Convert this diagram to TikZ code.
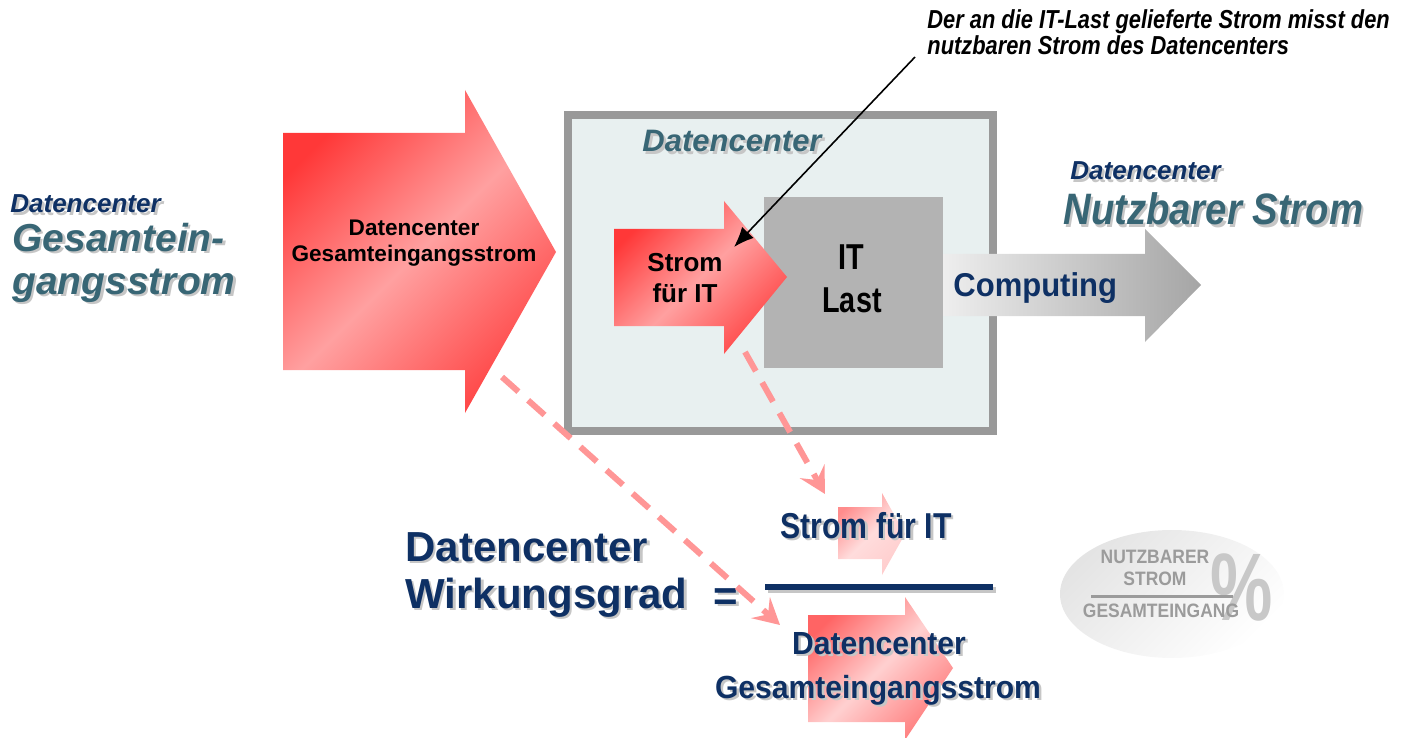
\documentclass[tikz,border=0pt]{standalone}
\usepackage{fontspec}
\setmainfont{Liberation Sans}
\usepackage{graphicx}
\usetikzlibrary{calc,arrows.meta}
\definecolor{navy}{RGB}{14,48,100}
\definecolor{dcteal}{RGB}{56,102,117}
\definecolor{shad}{RGB}{198,198,198}
\definecolor{boxline}{RGB}{153,153,153}
\definecolor{boxfill}{RGB}{232,240,240}
\definecolor{itgray}{RGB}{179,179,179}
\definecolor{dashpink}{RGB}{255,150,150}
\definecolor{elltext}{RGB}{155,155,155}
\definecolor{pctgray}{RGB}{200,200,200}
\newcommand\fs[1]{\fontsize{#1}{#1}\selectfont}
\newcommand\sx[2]{\scalebox{#1}[1]{#2}}
\newcommand\shnode[4]{%
  \node[#3,text=shad] (#1s) at ($(#2)+(2.5,2.5)$) {#4};
  \node[#3] (#1) at (#2) {#4};}
\tikzset{
  txtw/.style={inner sep=0pt, anchor=base west},
  txtc/.style={inner sep=0pt, anchor=base},
  bi/.style={font=\bfseries\itshape\fs{#1}},
  bo/.style={font=\bfseries\fs{#1}},
  redarrow/.style={top color={rgb,255:red,255;green,56;blue,56}, bottom color={rgb,255:red,255;green,70;blue,70}, middle color={rgb,255:red,255;green,160;blue,160}, shading angle=45},
  lightarrow/.style={top color={rgb,255:red,255;green,100;blue,100}, bottom color={rgb,255:red,255;green,125;blue,125}, middle color={rgb,255:red,255;green,208;blue,208}, shading angle=45},
  palearrow/.style={top color={rgb,255:red,255;green,140;blue,140}, bottom color={rgb,255:red,255;green,205;blue,205}, middle color={rgb,255:red,255;green,220;blue,220}, shading angle=45},
  grayarrow/.style={left color={rgb,255:red,238;green,238;blue,238}, right color={rgb,255:red,165;green,165;blue,165}},
  dasharrow/.style={draw=dashpink, line width=3pt, dash pattern=on 11pt off 6.5pt, -{Stealth[length=13pt,width=14pt,inset=5pt]}},
}
\begin{document}
\begin{tikzpicture}[x=0.5pt,y=-0.5pt]
\useasboundingbox (0,0) rectangle (1405,738);

% left title
\shnode{lt1}{10,213}{txtw,bi=13,text=navy}{Datencenter}
\shnode{lt2}{12,251}{txtw,bi=19.5,text=dcteal}{Gesamtein-}
\shnode{lt3}{12,294}{txtw,bi=19.5,text=dcteal}{gangsstrom}

% big input arrow
\shade[redarrow] (283,133) -- (465,133) -- (465,90) -- (556,252) -- (465,413) -- (465,370) -- (283,370) -- cycle;
\node[txtc,bo=11.3] (bigt1) at (414,235) {Datencenter};
\node[txtc,bo=11.3] (bigt2) at (414,262) {Gesamteingangsstrom};

% data center box
\draw[line width=4pt, draw=boxline, fill=boxfill] (568,115) rectangle (993,431);
\shnode{boxt}{642,152}{txtw,bi=15.5,text=dcteal}{Datencenter}
\fill[itgray] (764,197) rectangle (943,368);
\node[txtc,bo=18] (it1) at (851,270) {\sx{0.8}{IT}};
\node[txtc,bo=18] (it2) at (852,313) {\sx{0.8}{Last}};

% Strom fuer IT arrow
\shade[redarrow] (614,229) -- (724,229) -- (724,201) -- (787,277) -- (724,354) -- (724,326) -- (614,326) -- cycle;
\node[txtc,bo=13] (sit1) at (685,271) {Strom};
\node[txtc,bo=13] (sit2) at (685,302) {für IT};

% computing arrow
\shade[grayarrow] (943,254) -- (1145,254) -- (1145,229) -- (1201,285) -- (1145,342) -- (1145,316) -- (943,316) -- cycle;
\node[txtw,bo=16.5,text=navy] (comp) at (953,297) {\sx{0.94}{Computing}};

% right title
\shnode{rt1}{1070,180}{txtw,bi=13,text=navy}{Datencenter}
\shnode{rt2}{1063,225}{txtw,bi=22,text=dcteal}{\sx{0.87}{Nutzbarer Strom}}

% annotation
\node[txtw,bi=13] (ann1) at (927,29) {\sx{0.84}{Der an die IT-Last gelieferte Strom misst den}};
\node[txtw,bi=13] (ann2) at (927,55) {\sx{0.84}{nutzbaren Strom des Datencenters}};
\coordinate (annS) at (915,57);
\coordinate (annE) at (734,247);
\draw[line width=0.8pt, -{Latex[length=10pt,width=8pt]}] (annS) -- (annE);

% formula
\shade[palearrow] (838,507) -- (882,507) -- (882,493) -- (905,534) -- (882,575) -- (882,559) -- (838,559) -- cycle;
\shade[lightarrow] (808,615) -- (905,615) -- (905,597) -- (953,668) -- (905,740) -- (905,722) -- (808,722) -- cycle;
\shnode{wg1}{405,561}{txtw,bo=21,text=navy}{Datencenter}
\shnode{wg2}{405,608}{txtw,bo=21,text=navy}{Wirkungsgrad}
\shnode{eq}{726,610}{txtc,bo=21,text=navy}{=}
\coordinate (barL) at (765,587);
\coordinate (barR) at (993,587);
\draw[line width=3pt, shad] ($(barL)+(2.5,2.5)$) -- ($(barR)+(2.5,2.5)$);
\draw[line width=3pt, navy] (barL) -- (barR);
\shnode{num}{866,538}{txtc,bo=18,text=navy}{\sx{0.84}{Strom für IT}}
\shnode{den1}{879,654}{txtc,bo=16,text=navy}{\sx{0.94}{Datencenter}}
\shnode{den2}{878,698}{txtc,bo=16,text=navy}{\sx{0.94}{Gesamteingangsstrom}}

% dashed connectors
\coordinate (d1s) at (745,352);
\coordinate (d1e) at (825,494);
\coordinate (d2s) at (502,377);
\coordinate (d2e) at (780,625);
\draw[dasharrow] (d1s) -- (d1e);
\draw[dasharrow] (d2s) -- (d2e);

% ellipse
\shade[top color={rgb,255:red,228;green,228;blue,228}, bottom color=white, shading angle=45] (1172,594) ellipse [x radius=56pt, y radius=32pt];
\node[txtc,bo=48,text=pctgray] (pct) at (1242,620) {\sx{0.73}{\%}};
\node[txtc,bo=9.7,text=elltext] (e1) at (1155,563) {\sx{0.9}{NUTZBARER}};
\node[txtc,bo=9.7,text=elltext] (e2) at (1155,585) {\sx{0.9}{STROM}};
\coordinate (elL) at (1091,596);
\coordinate (elR) at (1233,596);
\draw[line width=1.5pt, elltext] (elL) -- (elR);
\node[txtc,bo=9.7,text=elltext] (e3) at (1161,617) {\sx{0.9}{GESAMTEINGANG}};
\end{tikzpicture}
\end{document}
